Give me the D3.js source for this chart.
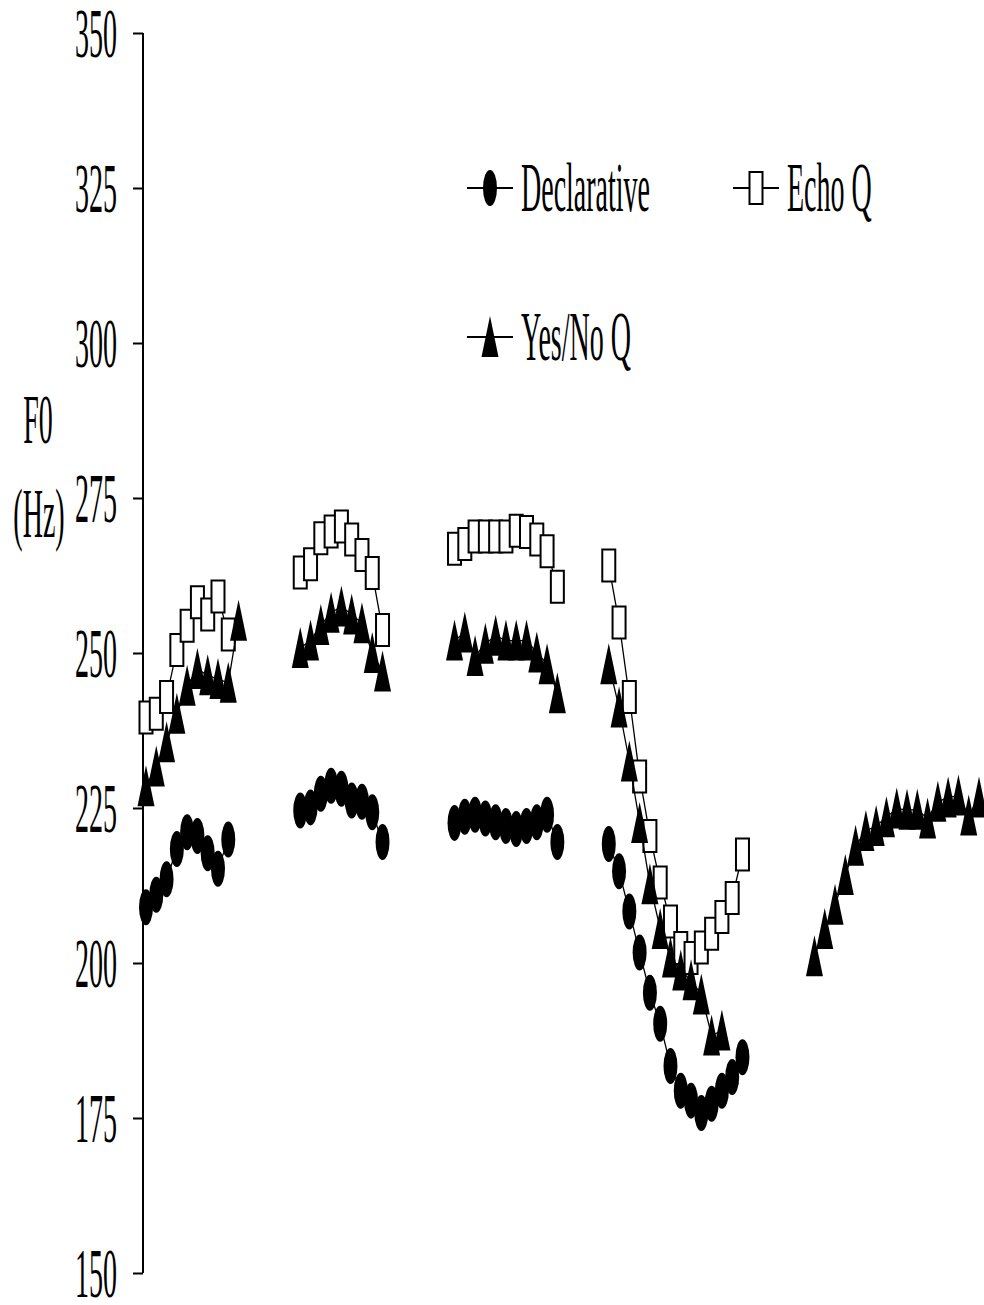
<!DOCTYPE html>
<html>
<head>
<meta charset="utf-8">
<script src="https://cdn.jsdelivr.net/npm/d3@7"></script>
<style>
  html, body { margin: 0; padding: 0; background: #fff; }
  svg text { font-family: "Liberation Serif", "Times New Roman", serif; fill: #000; }
</style>
</head>
<body>
<svg id="chart" width="984" height="1305"></svg>
<script>
// F0 contours (Hz) sampled at normalized time frames; null marks unvoiced gaps.
const _ = null;
const frameCount = 82;
const yTicks = [150, 175, 200, 225, 250, 275, 300, 325, 350];
const seriesNames = ["Declarative", "Echo Q", "Yes/No Q"];

const declarative = [
  209.0, 211.0, 213.5, 218.4, 221.1, 220.5, 217.7, 215.2, 219.9,
  _, _, _, _, _, _,
  224.6, 225.1, 227.3, 228.6, 228.1, 226.2, 226.0, 224.3, 219.5,
  _, _, _, _, _, _,
  222.6, 223.6, 223.9, 223.3, 222.7, 222.1, 221.6, 222.1, 222.7, 223.9, 219.5,
  _, _, _, _,
  219.2, 214.8, 208.3, 201.7, 195.2, 190.2, 183.4, 179.4, 177.8, 175.8, 177.3, 179.4, 181.6, 184.8,
  _, _, _, _, _, _, _, _, _, _, _, _, _, _, _, _, _, _, _, _, _, _, _
];

const echoQ = [
  239.6, 240.2, 242.9, 250.5, 254.4, 258.2, 256.2, 259.1, 253.0,
  _, _, _, _, _, _,
  263.0, 264.3, 268.5, 269.6, 270.4, 268.3, 265.8, 262.9, 253.7,
  _, _, _, _, _, _,
  266.8, 267.6, 268.8, 268.8, 268.8, 268.8, 269.7, 269.5, 268.3, 266.4, 260.7,
  _, _, _, _,
  264.1, 254.9, 242.9, 230.1, 220.5, 213.0, 206.7, 202.4, 200.8, 202.5, 204.7, 207.4, 210.5, 217.5,
  _, _, _, _, _, _, _, _, _, _, _, _, _, _, _, _, _, _, _, _, _, _, _
];

const yesNoQ = [
  228.5, 231.7, 235.6, 240.2, 244.7, 247.4, 246.4, 245.8, 245.2, 255.2,
  _, _, _, _, _,
  250.8, 252.0, 254.5, 256.5, 257.5, 256.2, 254.8, 250.0, 247.0,
  _, _, _, _, _, _,
  252.0, 253.3, 249.5, 251.5, 252.8, 252.0, 252.0, 252.0, 250.1, 248.2, 243.5,
  _, _, _, _,
  248.2, 241.2, 232.5, 222.6, 212.7, 205.5, 200.9, 198.8, 197.2, 194.9, 188.3, 189.1,
  _, _, _, _, _, _, _, _,
  201.1, 205.5, 209.4, 214.2, 218.9, 221.3, 222.1, 223.5, 224.9, 224.7, 224.7, 223.3, 226.0, 226.7, 227.0, 223.8, 226.7
];

// ---- layout ----
const TEXT_STRETCH = 2.5;   // tall, condensed serif lettering
const FONT = 28;

const svg = d3.select("#chart");
const x = d3.scaleLinear().domain([0, frameCount - 1]).range([146, 979]);
const y = d3.scaleLinear().domain([150, 350]).range([1273, 33]);

// marker shapes (tall, narrow)
const markerPath = {
  circle: "M-7,0 A7,18 0 1,0 7,0 A7,18 0 1,0 -7,0 Z",
  square: "M-6.5,-16 H6.5 V16 H-6.5 Z",
  triangle: "M0,-21 L8.5,20 L-8.5,20 Z"
};
const markerStyle = {
  circle:   { fill: "#000", stroke: "none", sw: 0 },
  square:   { fill: "#fff", stroke: "#000", sw: 2 },
  triangle: { fill: "#000", stroke: "none", sw: 0 }
};

const series = [
  { name: seriesNames[0], values: declarative, marker: "circle" },
  { name: seriesNames[1], values: echoQ,       marker: "square" },
  { name: seriesNames[2], values: yesNoQ,      marker: "triangle" }
];

// ---- y axis ----
const axisG = svg.append("g")
  .attr("transform", `translate(143,0)`)
  .call(d3.axisLeft(y).tickValues(yTicks).tickSize(10).tickSizeOuter(0).tickFormat(d3.format("d")));
axisG.select(".domain").attr("stroke", "#000").attr("stroke-width", 2)
  .attr("d", `M0,${y(350)}V${y(150)}`);
axisG.selectAll(".tick line").attr("stroke", "#000").attr("stroke-width", 2);
axisG.selectAll(".tick text")
  .attr("x", null).attr("dy", null)
  .attr("font-size", FONT)
  .attr("text-anchor", "end")
  .attr("transform", `translate(-26,0) scale(1,${TEXT_STRETCH})`)
  .attr("dy", "0.34em")
  .style("font-family", '"Liberation Serif", "Times New Roman", serif');

// axis title
const title = svg.append("g");
title.append("text").text("F0")
  .attr("font-size", FONT).attr("text-anchor", "middle")
  .attr("transform", `translate(38,443) scale(1,${TEXT_STRETCH})`);
title.append("text").text("(Hz)")
  .attr("font-size", FONT).attr("text-anchor", "middle")
  .attr("transform", `translate(39,537) scale(1,${TEXT_STRETCH})`);

// ---- series ----
const line = d3.line()
  .defined(d => d.v !== null)
  .x(d => x(d.i))
  .y(d => y(d.v));

series.forEach(s => {
  const pts = s.values.map((v, i) => ({ i, v }));
  const g = svg.append("g").attr("class", "series");
  g.append("path")
    .datum(pts)
    .attr("fill", "none")
    .attr("stroke", "#000")
    .attr("stroke-width", 1.3)
    .attr("d", line);
  const st = markerStyle[s.marker];
  g.selectAll("path.mk")
    .data(pts.filter(d => d.v !== null))
    .join("path")
    .attr("class", "mk")
    .attr("d", markerPath[s.marker])
    .attr("transform", d => `translate(${x(d.i)},${y(d.v)})`)
    .attr("fill", st.fill)
    .attr("stroke", st.stroke)
    .attr("stroke-width", st.sw);
});

// ---- legend ----
const legendItems = [
  { s: series[0], lx: 467, ty: 188 },
  { s: series[1], lx: 733, ty: 188 },
  { s: series[2], lx: 467, ty: 337 }
];
const legend = svg.append("g").attr("class", "legend");
legendItems.forEach(it => {
  const g = legend.append("g");
  g.append("line")
    .attr("x1", it.lx).attr("x2", it.lx + 46)
    .attr("y1", it.ty).attr("y2", it.ty)
    .attr("stroke", "#000").attr("stroke-width", 2);
  const st = markerStyle[it.s.marker];
  g.append("path")
    .attr("d", markerPath[it.s.marker])
    .attr("transform", `translate(${it.lx + 23},${it.ty})`)
    .attr("fill", st.fill).attr("stroke", st.stroke).attr("stroke-width", st.sw);
  g.append("text").text(it.s.name)
    .attr("font-size", FONT)
    .attr("dy", "0.33em")
    .attr("transform", `translate(${it.lx + 54},${it.ty}) scale(1,${TEXT_STRETCH})`);
});
</script>
</body>
</html>
